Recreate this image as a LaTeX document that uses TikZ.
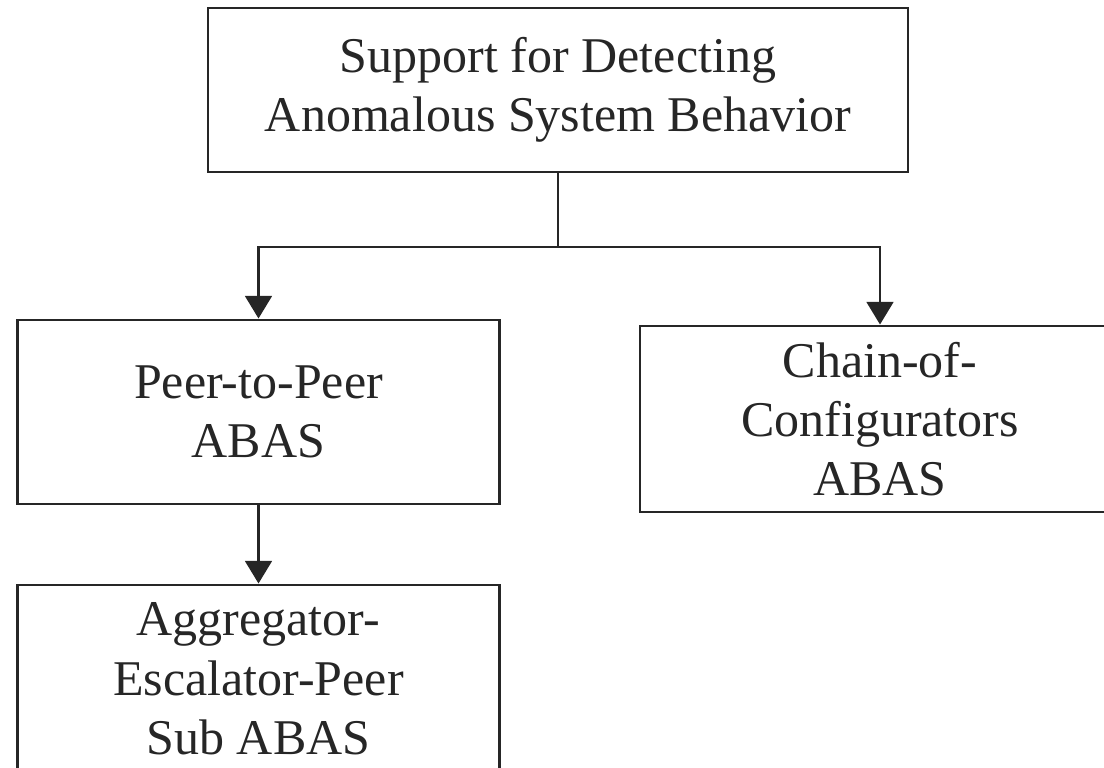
\documentclass[tikz,border=0pt]{standalone}
\usepackage{fontspec}
\setmainfont{Liberation Serif}
\usetikzlibrary{arrows.meta}

\begin{document}
\begin{tikzpicture}[x=0.75pt,y=-0.75pt,
  box/.style={draw=black!85, line width=2.2pt, rectangle, inner sep=0pt, align=center,
    font=\fontsize{37.5pt}{44.5pt}\selectfont, text=black!85},
  link/.style={draw=black!85, line width=2.2pt},
  arrowlink/.style={link, -{Triangle[length=17pt,width=20pt]}}]
  \useasboundingbox (0,0) rectangle (1104,768);
  \clip (0,0) rectangle (1104,768);

  % root of the taxonomy
  \node[box, minimum width=525pt, minimum height=123pt] (root) at (558,90)
    {Support for Detecting\\Anomalous System Behavior};

  % first level
  \node[box, minimum width=362pt, minimum height=138pt] (p2p) at (258.5,412)
    {Peer-to-Peer\\ABAS};
  \node[box, minimum width=360pt, minimum height=139.5pt] (chain) at (880,419)
    {Chain-of-\\Configurators\\ABAS};

  % second level
  \node[box, minimum width=362pt, minimum height=141pt] (aep) at (258.5,679)
    {Aggregator-\\Escalator-Peer\\Sub ABAS};

  % branching connector
  \coordinate (split) at (558,247);
  \draw[link] (root.south) -- (split);
  \draw[arrowlink] (split) -| (p2p.north);
  \draw[arrowlink] (split) -| (chain.north);
  \draw[arrowlink] (p2p.south) -- (aep.north);
\end{tikzpicture}
\end{document}
